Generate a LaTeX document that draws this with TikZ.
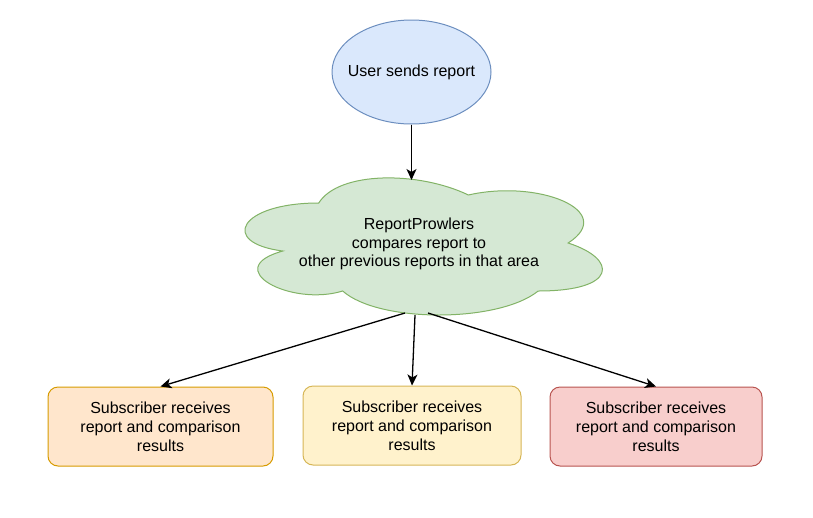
\documentclass[tikz,border=0pt]{standalone}
\usepackage{fontspec}
\setmainfont{Liberation Sans}
\usetikzlibrary{shapes.geometric,arrows.meta}
\definecolor{bluefill}{HTML}{DAE8FC}
\definecolor{bluedraw}{HTML}{6C8EBF}
\definecolor{greenfill}{HTML}{D5E8D4}
\definecolor{greendraw}{HTML}{82B366}
\definecolor{orangefill}{HTML}{FFE6CC}
\definecolor{orangedraw}{HTML}{D79B00}
\definecolor{yellowfill}{HTML}{FFF2CC}
\definecolor{yellowdraw}{HTML}{D6B656}
\definecolor{redfill}{HTML}{F8CECC}
\definecolor{reddraw}{HTML}{B85450}
\tikzset{
  txt/.style={font=\fontsize{16}{18.8}\selectfont, align=center, text=black},
  subbox/.style={txt, draw, line width=1pt, rounded corners=10pt, minimum height=79pt, inner sep=0pt},
  conn/.style={line width=1.3pt, -{Stealth[length=11pt,width=10pt,inset=3pt]}}
}
\begin{document}
\begin{tikzpicture}[x=1pt,y=-1pt]
\useasboundingbox (0,0) rectangle (813,517);
% user ellipse
\node[ellipse, draw=bluedraw, fill=bluefill, line width=1pt, minimum width=159pt, minimum height=104pt, inner sep=0pt] (user) at (411.5,72) {};
\node[txt] (usertxt) at (user) {User sends report};
% cloud
\begin{scope}[shift={(219,163)}, x=399pt, y=-160pt]
\draw[draw=greendraw, fill=greenfill, line width=1pt]
  (0.25,0.25) .. controls (0.05,0.25) and (0,0.5) .. (0.16,0.55)
  .. controls (0,0.66) and (0.18,0.9) .. (0.31,0.8)
  .. controls (0.4,1) and (0.7,1) .. (0.8,0.8)
  .. controls (1,0.8) and (1,0.6) .. (0.875,0.5)
  .. controls (1,0.3) and (0.8,0.1) .. (0.625,0.2)
  .. controls (0.5,0.05) and (0.3,0.05) .. (0.25,0.25) -- cycle;
\end{scope}
\node[txt] (cloud) at (419,244) {ReportProwlers\\compares report to\\other previous reports in that area};
\coordinate (ctop) at (411.5,180);
\coordinate (cb1) at (405,313);
\coordinate (cb2) at (415,315);
\coordinate (cb3) at (428,313);
% boxes
\node[subbox, draw=orangedraw, fill=orangefill, minimum width=225pt] (box1) at (160.5,426.5) {Subscriber receives\\report and comparison\\results};
\node[subbox, draw=yellowdraw, fill=yellowfill, minimum width=218pt] (box2) at (412,425.5) {Subscriber receives\\report and comparison\\results};
\node[subbox, draw=reddraw, fill=redfill, minimum width=212pt] (box3) at (656,426.5) {Subscriber receives\\report and comparison\\results};
% connectors
\draw[conn] (user) -- (ctop);
\draw[conn] (cb1) -- (box1.north);
\draw[conn] (cb2) -- (box2.north);
\draw[conn] (cb3) -- (box3.north);
\end{tikzpicture}
\end{document}
